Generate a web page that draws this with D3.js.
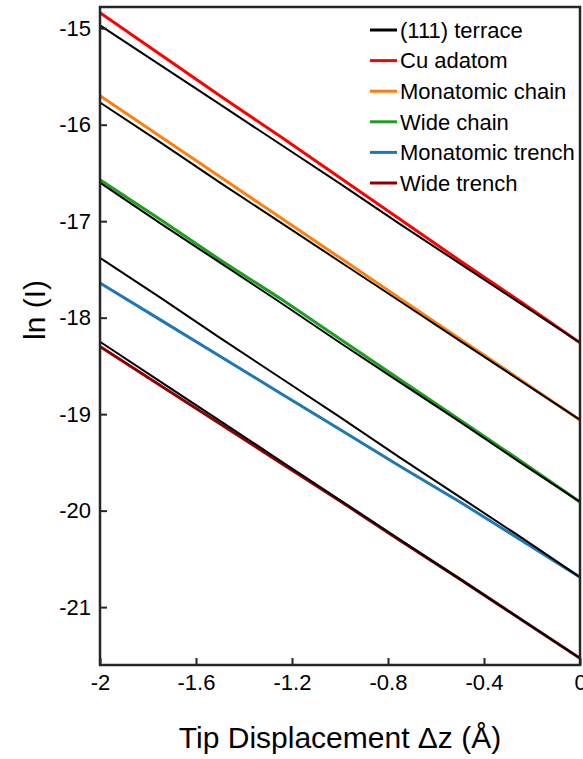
<!DOCTYPE html>
<html>
<head>
<meta charset="utf-8">
<script src="https://cdn.jsdelivr.net/npm/d3@7"></script>
<style>
  body { margin: 0; background: #fff; }
  svg { font-family: "Liberation Sans", Arial, sans-serif; }
</style>
</head>
<body>
<svg id="chart"></svg>
<script>
// tip displacement (Angstrom) where values were read
var dz = [-2, -1.75, -1.5, -1.25, -1, -0.75, -0.5, -0.25, 0];

// ln(I) values
var terraceA = [-14.97, -15.38, -15.79, -16.20, -16.61, -17.03, -17.44, -17.85, -18.26];
var cuAdatom = [-14.84, -15.27, -15.70, -16.12, -16.55, -16.98, -17.41, -17.83, -18.26];
var terraceB = [-15.77, -16.18, -16.60, -17.01, -17.42, -17.83, -18.24, -18.65, -19.06];
var monoChain = [-15.70, -16.12, -16.54, -16.96, -17.38, -17.80, -18.22, -18.64, -19.06];
var terraceC = [-16.60, -17.02, -17.43, -17.84, -18.26, -18.67, -19.08, -19.50, -19.91];
var wideChain = [-16.57, -16.98, -17.40, -17.80, -18.22, -18.64, -19.06, -19.48, -19.91];
var terraceD = [-17.38, -17.79, -18.21, -18.62, -19.03, -19.45, -19.86, -20.27, -20.69];
var monoTrench = [-17.64, -18.02, -18.40, -18.78, -19.16, -19.54, -19.91, -20.30, -20.69];
var terraceE = [-18.25, -18.66, -19.07, -19.48, -19.89, -20.30, -20.71, -21.12, -21.53];
var wideTrench = [-18.30, -18.70, -19.10, -19.50, -19.90, -20.31, -20.71, -21.12, -21.53];

var xTicks = [-2, -1.6, -1.2, -0.8, -0.4, 0];
var yTicks = [-15, -16, -17, -18, -19, -20, -21];

var legendNames = ["(111) terrace", "Cu adatom", "Monatomic chain", "Wide chain", "Monatomic trench", "Wide trench"];
var legendColors = ["#000000", "#ff0000", "#ff7f0e", "#1f9e1f", "#1f77b4", "#8b0000"];

var W = 583, H = 759;
var margin = {top: 7, right: 3, bottom: 94, left: 100};
var width = W - margin.left - margin.right;
var height = H - margin.top - margin.bottom;

var svg = d3.select("#chart").attr("width", W).attr("height", H);
var g = svg.append("g").attr("transform", "translate(" + margin.left + "," + margin.top + ")");

var x = d3.scaleLinear().domain([-2, 0]).range([0, width]);
var y = d3.scaleLinear().domain([-21.6, -14.78]).range([height, 0]);

var line = d3.line()
    .x(d => x(d[0]))
    .y(d => y(d[1]));

function pts(vals) { return dz.map((z, i) => [z, vals[i]]); }

// coloured curves first, terrace references on top
var colored = [
    {v: cuAdatom, c: legendColors[1]},
    {v: monoChain, c: legendColors[2]},
    {v: wideChain, c: legendColors[3]},
    {v: monoTrench, c: legendColors[4]},
    {v: wideTrench, c: legendColors[5]}
];
var terraces = [terraceA, terraceB, terraceC, terraceD, terraceE];

g.selectAll("path.col")
    .data(colored)
    .enter()
    .append("path")
    .attr("class", "col")
    .attr("d", d => line(pts(d.v)))
    .attr("fill", "none")
    .attr("stroke", d => d.c)
    .attr("stroke-width", 3);

g.selectAll("path.ter")
    .data(terraces)
    .enter()
    .append("path")
    .attr("class", "ter")
    .attr("d", d => line(pts(d)))
    .attr("fill", "none")
    .attr("stroke", "#000")
    .attr("stroke-width", 2);

// axes with inward ticks, plain hyphen labels
var xAxis = g.append("g")
    .attr("transform", "translate(0," + height + ")")
    .call(d3.axisBottom(x).tickValues(xTicks).tickSizeInner(-7).tickSizeOuter(0).tickPadding(9)
        .tickFormat(d => String(d)));
var yAxis = g.append("g")
    .call(d3.axisLeft(y).tickValues(yTicks).tickSizeInner(-7).tickSizeOuter(0).tickPadding(9)
        .tickFormat(d => String(d)));

[xAxis, yAxis].forEach(function(a) {
    a.select(".domain").remove();
    a.selectAll(".tick line").attr("stroke", "#262626").attr("stroke-width", 2);
    a.selectAll(".tick text").attr("font-size", 22).attr("fill", "#000")
        .attr("font-family", "Liberation Sans, Arial, sans-serif");
});

// box
g.append("rect")
    .attr("width", width)
    .attr("height", height)
    .attr("fill", "none")
    .attr("stroke", "#262626")
    .attr("stroke-width", 2.5);

// axis titles
svg.append("text")
    .attr("x", margin.left + width / 2)
    .attr("y", 748)
    .attr("text-anchor", "middle")
    .attr("font-size", 30)
    .text("Tip Displacement \u0394z (\u00c5)");

svg.append("text")
    .attr("transform", "translate(45," + 310 + ") rotate(-90)")
    .attr("text-anchor", "middle")
    .attr("font-size", 30)
    .text("ln (I)");

// legend
var leg = svg.append("g").attr("transform", "translate(370,30)");
var rows = leg.selectAll("g")
    .data(legendNames)
    .enter()
    .append("g")
    .attr("transform", (d, i) => "translate(0," + i * 30.6 + ")");
rows.append("line")
    .attr("x1", 0).attr("x2", 27)
    .attr("stroke", (d, i) => legendColors[i])
    .attr("stroke-width", 3);
rows.append("text")
    .attr("x", 30)
    .attr("dy", "0.35em")
    .attr("font-size", 22)
    .text(d => d);
</script>
</body>
</html>
